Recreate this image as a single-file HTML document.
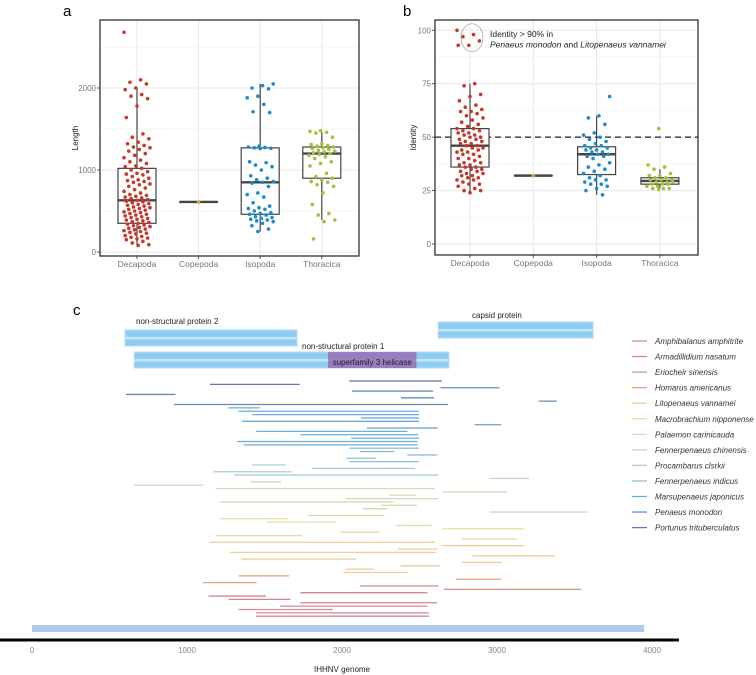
<!DOCTYPE html>
<html><head><meta charset="utf-8"><style>
body{margin:0;background:#fff}
svg{display:block;font-family:"Liberation Sans",sans-serif}
</style></head><body>
<svg id="fig" width="756" height="675" viewBox="0 0 756 675"></svg>
<script>
// ---- panel a data ----
const catsA = ["Decapoda","Copepoda","Isopoda","Thoracica"];
const lenDecapoda = [2680,2100,2070,2050,2000,1980,1920,1900,1870,1780,1640,1440,1400,1380,1340,1320,1300,1280,1270,1250,1230,1200,1180,1150,1120,1100,1080,1050,1040,1020,1000,980,960,950,940,920,900,880,870,860,850,830,820,800,780,760,740,720,700,690,680,670,660,650,640,630,620,610,600,590,580,570,560,550,540,530,520,510,500,490,480,470,460,450,440,430,420,410,400,390,380,370,360,350,340,330,320,310,300,290,280,270,260,250,240,230,220,200,190,180,170,160,150,130,110,90,80];
const lenCopepoda = [610];
const lenIsopoda = [2050,2030,2000,1990,1900,1880,1800,1710,1700,1290,1280,1275,1270,1265,1260,1100,1090,1060,1040,1000,930,900,880,860,850,840,800,720,700,670,600,560,540,530,520,500,480,470,460,450,430,420,410,400,390,380,370,350,320,280,250];
const lenThoracica = [1480,1470,1460,1450,1400,1320,1310,1300,1290,1280,1270,1260,1250,1240,1230,1220,1210,1200,1190,1180,1160,1140,1100,1080,1050,960,920,900,880,860,850,820,800,720,580,470,450,390,370,160];
const boxA = [[80,350,630,1020,2000],[610,610,610,610,610],[250,460,850,1270,2050],[390,900,1200,1280,1460]];
const ticksA = [0,1000,2000];
const minorA = [500,1500,2500];
// ---- panel b data ----
const catsB = ["Decapoda","Copepoda","Isopoda","Thoracica"];
const idDecapoda = [100,98,97,95,93,93,75,74,70,69,67,65,64,63,62,62,61,60,59,58,57,56,55,54,54,53,53,52,52,51,51,50,50,49,49,48,48,47,47,46,46,45,45,44,44,43,43,42,42,41,40,40,39,38,38,37,37,36,36,35,35,34,34,33,33,32,32,31,31,30,30,29,28,28,27,26,25,25,24];
const idCopepoda = [32];
const idIsopoda = [69,60,59,56,52,51,50,49,48,47,46,46,45,45,44,44,43,43,42,42,41,41,40,38,37,36,35,34,33,32,31,30,30,29,28,28,27,26,25,23];
const idThoracica = [54,37,36,35,33,32,32,31,31,30,30,30,29,29,29,28,28,28,27,27,26,26,26,25.5];
const boxB = [[24,36,46,54,75],[32,32,32,32,32],[23,32.5,42,45.5,60],[26,28,29.5,31,35]];
const ticksB = [0,25,50,75,100];
const minorB = [12.5,37.5,62.5,87.5];
const threshB = 50;
// ---- panel c data ----
const species = ["Amphibalanus amphitrite","Armadillidium nasatum","Eriocheir sinensis","Homarus americanus","Litopenaeus vannamei","Macrobrachium nipponense","Palaemon carinicauda","Fennerpenaeus chinensis","Procambarus clsrkii","Fennerpenaeus indicus","Marsupenaeus japonicus","Penaeus monodon","Portunus trituberculatus"];
const readStart = [2046,1148,2635,2064,605,2380,3268,916,1268,1332,1421,2122,1355,2855,2161,1446,1732,2059,1324,1365,2048,2115,2421,2028,2048,1421,1809,1171,1304,2952,1411,656,1184,2651,2306,2026,1212,2255,2135,2952,1783,1212,1515,2344,2645,1987,1189,2773,1145,2645,2360,1278,2842,1347,2773,2378,2020,2008,1334,2735,1102,2115,2656,1732,1138,1268,1732,1599,1334,1446,1446];
const readEnd = [2645,1727,3015,2587,926,2594,3385,2684,1469,2497,2497,2497,2497,3028,2617,2423,2492,2497,2487,2487,2497,2337,2612,2217,2497,1638,2469,1673,2620,3207,1607,1105,2599,3064,2477,2620,2332,2482,2293,3584,2273,1651,1957,2579,3176,2247,1745,3130,2599,3176,2620,2605,3375,2089,3033,2630,2204,2423,1658,3026,1449,2622,3543,2551,1510,1668,2612,2551,1941,2561,2561];
const readSpecies = [12,12,11,11,11,11,11,11,10,10,10,10,10,10,10,10,10,10,10,10,9,9,9,9,9,8,8,8,8,7,7,7,6,6,6,6,6,6,6,6,6,5,5,5,5,5,5,5,4,4,4,4,4,4,4,4,4,4,3,3,3,2,2,1,1,1,1,0,0,0,0];
const genes = ["non-structural protein 2","capsid protein","non-structural protein 1"];
const geneStart = [600,2620,660];
const geneEnd = [1710,3620,2690];
const helicase = [1910,2480];
const genomeLen = 3950;
const ticksC = [0,1000,2000,3000,4000];

const NS="http://www.w3.org/2000/svg";
const svg=document.getElementById('fig');
function el(tag,attrs,parent){const e=document.createElementNS(NS,tag);for(const k in attrs)e.setAttribute(k,attrs[k]);(parent||svg).appendChild(e);return e;}
const ptColors=["#c8372a","#e0a020","#1a8ccc","#a4c040"];

function boxPanel(o){
  const g=el('g',{});
  
  
  const y=v=>o.yZero+v*o.k;
  const xc=i=>o.x0+o.c0+i*o.cs;
  o.minor.forEach(t=>{const l=el('line',{x1:o.x0,x2:o.x1,y1:y(t),y2:y(t),stroke:"#f3f3f3","stroke-width":0.7},g);
    
    });
  o.ticks.forEach(t=>{const l=el('line',{x1:o.x0,x2:o.x1,y1:y(t),y2:y(t),stroke:"#e8e8e8","stroke-width":1},g);
    
    
    const tk=el('line',{x1:o.x0-3,x2:o.x0,y1:y(t),y2:y(t),stroke:"#333","stroke-width":0.8},g);
    
    
    const tx=el('text',{x:o.x0-4,y:y(t)+3,"text-anchor":"end","font-size":8,fill:"#777"},g);tx.textContent=t;
    
    });
  o.cats.forEach((c,i)=>{const l=el('line',{x1:xc(i),x2:xc(i),y1:o.y1,y2:o.yBot,stroke:"#e8e8e8","stroke-width":1},g);
    
    
    const tk=el('line',{x1:xc(i),x2:xc(i),y1:o.yBot,y2:o.yBot+3,stroke:"#333","stroke-width":0.8},g);
    
    
    const tx=el('text',{x:xc(i),y:o.yBot+11,"text-anchor":"middle","font-size":8.5,fill:"#777"},g);tx.textContent=c;
    
    });
  if(o.thresh!==undefined){const d=el('line',{x1:o.x0,x2:o.x1,y1:y(o.thresh),y2:y(o.thresh),stroke:"#222","stroke-width":1.2,"stroke-dasharray":"6,4"},g);
    
    }
  o.box.forEach((b,i)=>{const x=xc(i),w=19;
    const wl=el('line',{x1:x,x2:x,y1:y(b[0]),y2:y(b[4]),stroke:"#444","stroke-width":1.2},g);
    
    
    const r=el('rect',{x:x-w,y:y(b[3]),width:2*w,height:Math.max(0.1,y(b[1])-y(b[3])),fill:"#fff",stroke:"#444","stroke-width":1.2},g);
    
    
    const m=el('line',{x1:x-w,x2:x+w,y1:y(b[2]),y2:y(b[2]),stroke:"#444","stroke-width":2.4},g);
    
    });
  o.series.forEach((s,i)=>{s.forEach((v,j)=>{const off=(((j*37+i*11)%23)-11)/11*(s.length>1?13:0);
    const p=el('circle',{cx:xc(i)+off,cy:y(v),r:1.8,fill:ptColors[i]},g);
    
    });});
  const fr=el('rect',{x:o.x0,y:o.y1,width:o.x1-o.x0,height:o.yBot-o.y1,fill:"none",stroke:"#333","stroke-width":1.3},g);
  
  
  const cy=(o.y1+o.yBot)/2;
  const yt=el('text',{x:o.ytx,y:cy,"text-anchor":"middle","font-size":8,fill:"#111",transform:`rotate(-90 ${o.ytx} ${cy})`},g);yt.textContent=o.ytitle;
  
  
  const pl=el('text',{x:o.lx,y:16,"font-size":15,fill:"#000"},g);pl.textContent=o.label;
  
  
  return {g,y,xc};
}
boxPanel({name:'panel-a',x0:100,x1:359,y1:20,yBot:256,yZero:252,k:-0.082,ticks:ticksA,minor:minorA,cats:catsA,c0:37,cs:61.6,box:boxA,series:[lenDecapoda,lenCopepoda,lenIsopoda,lenThoracica],ytitle:"Length",ytx:78,label:"a",lx:63});
const pb=boxPanel({name:'panel-b',x0:435,x1:698,y1:20,yBot:255,yZero:244,k:-2.137,ticks:ticksB,minor:minorB,cats:catsB,c0:35,cs:63.3,box:boxB,series:[idDecapoda,idCopepoda,idIsopoda,idThoracica],thresh:threshB,ytitle:"Identity",ytx:416,label:"b",lx:403});
// annotation
const ell=el('ellipse',{cx:472,cy:pb.y(96.5),rx:11,ry:14,fill:"none",stroke:"#aaa","stroke-width":0.8},pb.g);


const an=el('text',{x:490,y:37,"font-size":8.5,fill:"#222"},pb.g);


an.innerHTML='<tspan x="490">Identity &gt; 90% in</tspan><tspan x="490" dy="10.5"><tspan font-style="italic">Penaeus monodon</tspan> and <tspan font-style="italic">Litopenaeus vannamei</tspan></tspan>';

// ---- panel c ----
const spColors=["#d08a94","#d4868a","#d99a90","#e2a27e","#f0cd98","#e6dca2","#d8d8b8","#c8d4d0","#a8cdd8","#8cc0da","#6eaedc","#6a8cb8","#6a72b2"];
const gc=el('g',{});


const xC=v=>32+v*0.155;
const lc=el('text',{x:73,y:315,"font-size":15,fill:"#000"},gc);lc.textContent="c";


const geneY=[330,322,352];
const geneLabel=[[136,324,"start"],[472,318,"start"],[302,349,"start"]];
genes.forEach((n,i)=>{
  const r=el('rect',{x:xC(geneStart[i]),y:geneY[i],width:xC(geneEnd[i])-xC(geneStart[i]),height:16,fill:"#8fcdf0",stroke:"#b5def5","stroke-width":1},gc);
  
  
  const s=el('rect',{x:xC(geneStart[i]),y:geneY[i]+7,width:xC(geneEnd[i])-xC(geneStart[i]),height:2.5,fill:"#c2e5f8"},gc);
  
  
  const t=el('text',{x:geneLabel[i][0],y:geneLabel[i][1],"font-size":8,fill:"#222"},gc);t.textContent=n;
  
  
});
const hel=el('rect',{x:xC(helicase[0]),y:352,width:xC(helicase[1])-xC(helicase[0]),height:16,fill:"#9a6db8",opacity:0.85},gc);


const ht=el('text',{x:xC((helicase[0]+helicase[1])/2),y:365,"text-anchor":"middle","font-size":8,fill:"#222"},gc);ht.textContent="superfamily 3 helicase";


readStart.forEach((s,i)=>{
  const yy=381+i*3.36;
  const l=el('line',{x1:xC(s),x2:xC(readEnd[i]),y1:yy,y2:yy,stroke:spColors[readSpecies[i]],"stroke-width":1.3},gc);
  
  
});
const gb=el('rect',{x:xC(0),y:625,width:xC(genomeLen)-xC(0),height:7,fill:"#b0caeb"},gc);


const ax=el('line',{x1:0,x2:679,y1:640,y2:640,stroke:"#000","stroke-width":3},gc);


ticksC.forEach(t=>{const tx=el('text',{x:xC(t),y:653,"text-anchor":"middle","font-size":8,fill:"#888"},gc);tx.textContent=t;
  
  });
const xt=el('text',{x:xC(2000),y:672,"text-anchor":"middle","font-size":8,fill:"#222"},gc);xt.textContent="IHHNV genome";


species.forEach((s,i)=>{
  const yy=341+i*15.55;
  const l=el('line',{x1:632,x2:647,y1:yy,y2:yy,stroke:spColors[i],"stroke-width":1.3},gc);
  
  
  const t=el('text',{x:655,y:yy+3,"font-size":8,"font-style":"italic",fill:"#333"},gc);t.textContent=s;
  
  
});
</script>
</body></html>
